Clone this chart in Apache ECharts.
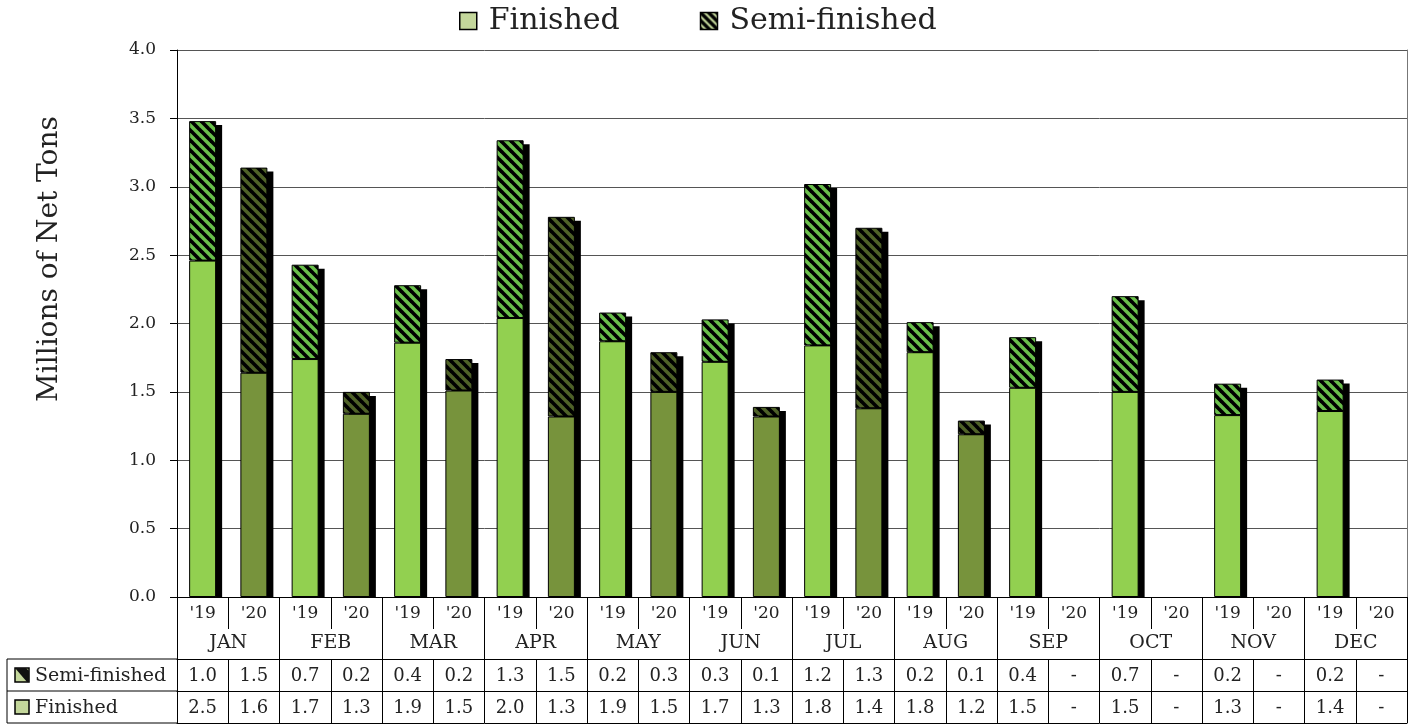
<!DOCTYPE html>
<html>
<head>
<meta charset="utf-8">
<script src="https://cdn.jsdelivr.net/npm/echarts@6/dist/echarts.min.js"></script>
<style>
html,body{margin:0;padding:0;background:#fff;}
#chart{width:1416px;height:726px;}
</style>
</head>
<body>
<div id="chart"></div>
<script>
// ---- data ----
var months = ['JAN','FEB','MAR','APR','MAY','JUN','JUL','AUG','SEP','OCT','NOV','DEC'];
var years = ["'19", "'20"];
var finished2019 = [2.46, 1.74, 1.86, 2.04, 1.87, 1.72, 1.84, 1.79, 1.53, 1.50, 1.33, 1.36];
var finished2020 = [1.64, 1.34, 1.51, 1.32, 1.50, 1.32, 1.38, 1.19, null, null, null, null];
var semi2019 = [1.02, 0.69, 0.42, 1.30, 0.21, 0.31, 1.18, 0.22, 0.37, 0.70, 0.23, 0.23];
var semi2020 = [1.50, 0.16, 0.23, 1.46, 0.29, 0.07, 1.32, 0.10, null, null, null, null];

// ---- styling helpers ----
var FONT = 'DejaVu Serif';
function hatch(base, size, lw) {
  var c = document.createElement('canvas');
  c.width = size; c.height = size;
  var g = c.getContext('2d');
  g.fillStyle = base; g.fillRect(0, 0, size, size);
  g.strokeStyle = '#000'; g.lineWidth = lw; g.lineCap = 'square';
  for (var k = -1; k <= 1; k++) {
    g.beginPath();
    g.moveTo(-2 + k * size, -2);
    g.lineTo(size + 2 + k * size, size + 2);
    g.stroke();
  }
  return {image: c, repeat: 'repeat'};
}
var col = {
  fin19: '#92d050', fin20: '#77933c',
  semi19: hatch('#6abf4b', 10, 3.6),
  semi20: hatch('#4f6228', 10, 3.6)
};

// ---- build ----
var cats = [], finData = [], semiData = [], finText = [], semiText = [], totals = [];
function fmt(v){ return (v === null || v === undefined) ? '-' : v.toFixed(1); }
months.forEach(function(m, i){
  cats.push(years[0] + '|' + m); cats.push(years[1] + '|' + m);
  finData.push({value: finished2019[i], itemStyle: {color: col.fin19}});
  finData.push({value: finished2020[i], itemStyle: {color: col.fin20}});
  semiData.push({value: semi2019[i], itemStyle: {color: col.semi19}});
  semiData.push({value: semi2020[i], itemStyle: {color: col.semi20}});
  finText.push(fmt(finished2019[i])); finText.push(fmt(finished2020[i]));
  semiText.push(fmt(semi2019[i])); semiText.push(fmt(semi2020[i]));
  totals.push([cats.length - 2, finished2019[i] === null ? null : finished2019[i] + (semi2019[i] || 0)]);
  totals.push([cats.length - 1, finished2020[i] === null ? null : finished2020[i] + (semi2020[i] || 0)]);
});
var yearLabels = cats.map(function(c){ return c.split('|')[0]; });

var BAR_W = 27, SH_X = 6, SH_Y = 4;
var GL = 177, GR = 1407, GT = 50, GB = 597;
var rowTop = 659, rowMid = 691, rowBot = 723;
var black = '#000';
var txt = '#222';

function renderShadow(params, api) {
  var v = api.value(1);
  if (v === null || isNaN(v)) return;
  var top = api.coord([api.value(0), v]);
  var base = api.coord([api.value(0), 0]);
  return {
    type: 'rect',
    shape: {x: top[0] - BAR_W / 2 + SH_X, y: top[1] + SH_Y, width: BAR_W, height: base[1] - top[1] - SH_Y},
    style: {fill: '#000'}
  };
}

var chart = echarts.init(document.getElementById('chart'), null, {renderer: 'canvas'});
var option = {
  animation: false,
  textStyle: {fontFamily: FONT},
  grid: {left: GL, right: 1416 - GR, top: GT, bottom: 726 - GB, containLabel: false},
  legend: {
    left: 454, top: 1,
    itemWidth: 17, itemHeight: 17, itemGap: 80,
    textStyle: {fontFamily: FONT, fontSize: 30, color: txt, padding: [0, 0, 0, 7]},
    data: [
      {name: 'Finished', icon: 'rect', itemStyle: {color: '#c4d79b', borderColor: '#000', borderWidth: 1.5}},
      {name: 'Semi-finished', icon: 'rect', itemStyle: {color: hatch('#c4d79b', 8, 3.4), borderColor: '#000', borderWidth: 1.5}}
    ]
  },
  xAxis: [
    { // years
      type: 'category', data: yearLabels, position: 'bottom',
      axisLine: {show: true, lineStyle: {color: black, width: 1}},
      axisTick: {show: true, interval: 0, length: 32, lineStyle: {color: black}},
      axisLabel: {interval: 0, margin: 8, fontFamily: FONT, fontSize: 17, color: txt}
    },
    { // months
      type: 'category', data: months, position: 'bottom',
      axisLine: {show: false},
      axisTick: {show: true, interval: 0, length: rowBot - GB, lineStyle: {color: black}},
      axisLabel: {interval: 0, margin: 37, fontFamily: FONT, fontSize: 19, color: txt}
    },
    { // semi row
      type: 'category', data: semiText, position: 'bottom', offset: rowTop - GB,
      axisLine: {show: true, lineStyle: {color: black}},
      axisTick: {show: true, interval: 0, length: rowMid - rowTop, lineStyle: {color: black}},
      axisLabel: {interval: 0, margin: 8, fontFamily: FONT, fontSize: 18, color: txt}
    },
    { // finished row
      type: 'category', data: finText, position: 'bottom', offset: rowMid - GB,
      axisLine: {show: true, lineStyle: {color: black}},
      axisTick: {show: true, interval: 0, length: rowBot - rowMid, lineStyle: {color: black}},
      axisLabel: {interval: 0, margin: 8, fontFamily: FONT, fontSize: 18, color: txt}
    },
    { // bottom line
      type: 'category', data: cats, position: 'bottom', offset: rowBot - GB,
      axisLine: {show: true, lineStyle: {color: black}},
      axisTick: {show: false}, axisLabel: {show: false}
    }
  ],
  yAxis: [
    {
      type: 'value', min: 0, max: 4, interval: 0.5,
      axisLine: {show: true, lineStyle: {color: black}},
      axisTick: {show: true, length: 7, lineStyle: {color: black}},
      axisLabel: {margin: 21, fontFamily: FONT, fontSize: 17, color: txt,
        formatter: function(v){ return v.toFixed(1); }},
      splitLine: {show: true, lineStyle: {color: '#555', width: 1}}
    },
    {
      type: 'value', min: 0, max: 4, interval: 0.5, position: 'right',
      axisLine: {show: true, lineStyle: {color: '#777'}},
      axisTick: {show: false}, axisLabel: {show: false}, splitLine: {show: false}
    }
  ],
  series: [
    {
      name: 'shadow', type: 'custom', xAxisIndex: 0, yAxisIndex: 0, z: 1,
      renderItem: renderShadow, data: totals, silent: true
    },
    {
      name: 'Finished', type: 'bar', stack: 'total', xAxisIndex: 0, yAxisIndex: 0, z: 2,
      barWidth: BAR_W, data: finData,
      itemStyle: {borderColor: '#000', borderWidth: 1}
    },
    {
      name: 'Semi-finished', type: 'bar', stack: 'total', xAxisIndex: 0, yAxisIndex: 0, z: 2,
      barWidth: BAR_W, data: semiData,
      itemStyle: {borderColor: '#000', borderWidth: 1}
    }
  ],
  graphic: [
    {type: 'text', x: 50, y: 259, rotation: Math.PI / 2,
      style: {text: 'Millions of Net Tons', fontFamily: FONT, fontSize: 28, fill: txt,
        textAlign: 'center', textVerticalAlign: 'middle'}},
    {type: 'line', shape: {x1: 7, y1: rowTop, x2: GL, y2: rowTop}, style: {stroke: black, lineWidth: 1}},
    {type: 'line', shape: {x1: 7, y1: rowMid, x2: GL, y2: rowMid}, style: {stroke: black, lineWidth: 1}},
    {type: 'line', shape: {x1: 7, y1: rowBot, x2: GL, y2: rowBot}, style: {stroke: black, lineWidth: 1}},
    {type: 'line', shape: {x1: 7, y1: rowTop, x2: 7, y2: rowBot}, style: {stroke: black, lineWidth: 1}},
    {type: 'rect', shape: {x: 15, y: 668, width: 14, height: 14}, style: {fill: '#c4d79b', stroke: black, lineWidth: 1.5}},
    {type: 'polygon', shape: {points: [[15, 668], [26, 668], [29, 671], [29, 682], [27, 682]]}, style: {fill: '#111'}},
    {type: 'rect', shape: {x: 15, y: 700, width: 14, height: 14}, style: {fill: '#c4d79b', stroke: black, lineWidth: 1.5}},
    {type: 'text', x: 35, y: 676, style: {text: 'Semi-finished', fontFamily: FONT, fontSize: 19, fill: txt, textVerticalAlign: 'middle'}},
    {type: 'text', x: 35, y: 708, style: {text: 'Finished', fontFamily: FONT, fontSize: 19, fill: txt, textVerticalAlign: 'middle'}}
  ]
};
chart.setOption(option);
</script>
</body>
</html>
